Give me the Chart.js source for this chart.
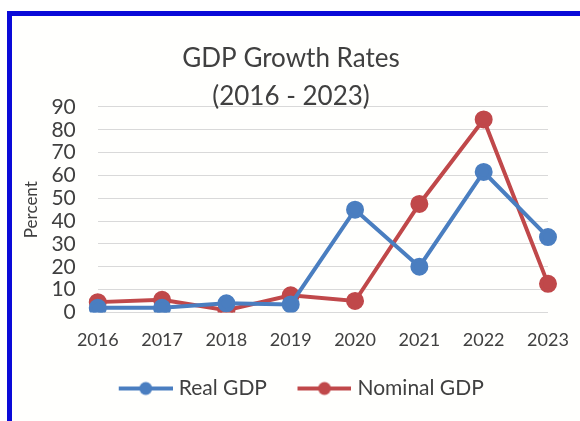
<!DOCTYPE html>
<html lang="en">
<head>
    <meta charset="UTF-8">
    <style>
        html, body {
            margin: 0;
            padding: 0;
            overflow: hidden;
            background: #ffffff;
            font-family: Lato, "Open Sans", sans-serif;
        }

        .frame {
            position: absolute;
            left: 7px;
            top: 11px;
            width: 568px;
            height: 405px;
            border-left: 5px solid #0a0ad8;
            border-top: 5px solid #0a0ad8;
            background: #fffffd;
        }

        .chart-box {
            position: absolute;
            left: 0;
            top: 0;
            width: 568px;
            height: 405px;
        }
    </style>
    <script src="https://cdn.jsdelivr.net/npm/chart.js"></script>
</head>
<body>
    <div class="frame">
        <div class="chart-box">
            <canvas id="gdpChart"></canvas>
        </div>
    </div>

    <script>
        const years = ['2016', '2017', '2018', '2019', '2020', '2021', '2022', '2023'];
        const realGdp = [2, 2, 4, 3.5, 45, 20, 61.5, 33];
        const nominalGdp = [4.5, 5.5, 1, 7.5, 5, 47.5, 84.5, 12.5];
        const yTicks = [0, 10, 20, 30, 40, 50, 60, 70, 80, 90];

        const textColor = '#404040';
        const blue = '#4a7ec0';
        const red = '#c0484a';

        const ICON_BOX = 70;

        // legend marker: a short line with a dot in the middle, pushed to the
        // right of its box so it sits close to the label text
        function legendIcon(color) {
            const c = document.createElement('canvas');
            c.width = ICON_BOX + 9;
            c.height = 16;
            const g = c.getContext('2d');
            const x1 = c.width - 54;
            const x2 = c.width;
            g.strokeStyle = color;
            g.lineWidth = 4;
            g.beginPath();
            g.moveTo(x1, 8);
            g.lineTo(x2, 8);
            g.stroke();
            g.fillStyle = color;
            g.beginPath();
            g.arc((x1 + x2) / 2, 8, 6.5, 0, Math.PI * 2);
            g.fill();
            return c;
        }

        document.addEventListener("DOMContentLoaded", function () {
            const ctx = document.getElementById('gdpChart').getContext('2d');
            const icons = [legendIcon(blue), legendIcon(red)];

            const data = {
                labels: years,
                datasets: [
                    {
                        label: 'Real GDP',
                        data: realGdp,
                        borderColor: blue,
                        backgroundColor: blue,
                        borderWidth: 4,
                        pointRadius: 7,
                        pointHoverRadius: 7,
                        tension: 0
                    },
                    {
                        label: 'Nominal GDP',
                        data: nominalGdp,
                        borderColor: red,
                        backgroundColor: red,
                        borderWidth: 4,
                        pointRadius: 7,
                        pointHoverRadius: 7,
                        tension: 0
                    }
                ]
            };

            const config = {
                type: 'line',
                data: data,
                options: {
                    responsive: true,
                    maintainAspectRatio: false,
                    animation: false,
                    layout: {
                        padding: { left: 9, right: 19, top: 24, bottom: 12 }
                    },
                    plugins: {
                        title: {
                            display: true,
                            text: ['GDP Growth Rates', '(2016 - 2023)'],
                            color: textColor,
                            font: { family: 'Lato', size: 26, weight: 'normal', lineHeight: 1.46 },
                            padding: { top: 0, bottom: -9 }
                        },
                        legend: {
                            position: 'bottom',
                            labels: {
                                color: textColor,
                                font: { family: 'Lato', size: 21 },
                                usePointStyle: true,
                                pointStyleWidth: ICON_BOX,
                                padding: 10,
                                generateLabels: function (chart) {
                                    const items = Chart.defaults.plugins.legend.labels.generateLabels(chart);
                                    items.forEach((item, i) => { item.pointStyle = icons[i]; });
                                    return items;
                                }
                            }
                        },
                        tooltip: { enabled: false }
                    },
                    scales: {
                        x: {
                            offset: false,
                            grid: { display: false, drawTicks: false },
                            border: { display: false },
                            // the large tick padding would otherwise widen the side gaps too
                            afterFit: function (scale) {
                                scale.paddingLeft = 0;
                                scale.paddingRight = 32;
                            },
                            ticks: {
                                color: textColor,
                                font: { family: 'Lato', size: 18 },
                                maxRotation: 0,
                                autoSkip: false,
                                padding: 17
                            }
                        },
                        y: {
                            min: 0,
                            max: 90,
                            afterBuildTicks: function (axis) {
                                axis.ticks = yTicks.map(v => ({ value: v }));
                            },
                            grid: { color: '#d9d9d9', drawTicks: false },
                            border: { display: false },
                            ticks: {
                                color: textColor,
                                font: { family: 'Lato', size: 21 },
                                autoSkip: false,
                                padding: 22
                            },
                            title: {
                                display: true,
                                text: 'Percent',
                                color: textColor,
                                font: { family: 'Lato', size: 17 },
                                padding: { top: 0, bottom: -12 }
                            }
                        }
                    }
                }
            };

            new Chart(ctx, config);
        });
    </script>
</body>
</html>
